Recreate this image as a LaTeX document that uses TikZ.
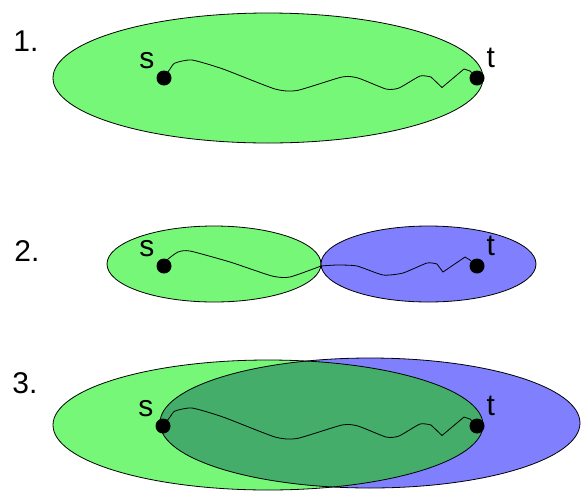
\documentclass[tikz,border=0pt]{standalone}
\usepackage{fontspec}
\setmainfont{Liberation Sans}
\usetikzlibrary{positioning}
\definecolor{regiongreen}{HTML}{77F777}
\definecolor{regionblue}{HTML}{8080FF}
\definecolor{overlapgreen}{HTML}{44AD6A}
\tikzset{
  region/.style={draw=black, line width=0.8pt},
  vertex/.style={circle, fill=black, inner sep=0pt, minimum size=15pt},
  vlabel/.style={font=\fontsize{30}{30}\selectfont, inner sep=0pt},
  rowlabel/.style={font=\fontsize{30}{30}\selectfont, inner sep=0pt},
  walk/.style={line width=0.8pt, smooth, tension=0.35},
}
% s-t walk of rows 1 and 3
\newcommand{\stwalk}[2]{%
  \draw[walk] plot coordinates {(#1) (170,69) (175,63) (192,60) (223,69) (275,89) (297,90.5)
    (342,77) (358,78) (386,89) (399,88) (420,76) (431,77)} -- (442,87.5) -- (464,69) -- (470,71) -- (#2);}

\begin{document}
\begin{tikzpicture}[x=1pt, y=-1pt]
  \useasboundingbox (0,0) rectangle (581,491);

  % 1.
  \draw[region, fill=regiongreen] (268,78) ellipse [x radius=215, y radius=65];
  \node[rowlabel] (row1) at (26,41) {1.};
  \node[vertex] (s1) at (164,78) {};
  \node[vertex] (t1) at (477,78) {};
  \node[vlabel, above left=4pt and 4pt of s1] (s1lab) {s};
  \node[vlabel, above right=5pt and 4pt of t1] (t1lab) {t};
  \stwalk{s1}{t1}

  % 2.
  \draw[region, fill=regiongreen] (214,264) ellipse [x radius=107, y radius=38];
  \draw[region, fill=regionblue] (428.5,264) ellipse [x radius=107.5, y radius=38];
  \node[rowlabel] (row2) at (27,251) {2.};
  \coordinate (touch) at (321,266);
  \node[vertex] (s2) at (164,266) {};
  \node[vertex] (t2) at (477,266) {};
  \node[vlabel, above left=4pt and 4pt of s2] (s2lab) {s};
  \node[vlabel, above right=5pt and 4pt of t2] (t2lab) {t};
  \draw[walk] plot coordinates {(s2) (167,260) (178,252) (190,251) (230,262) (272,276) (290,277) (touch)};
  \draw[walk] plot coordinates {(touch) (337,265) (357,266) (383,275) (403,273) (427,263) (437,264)}
    -- (443,272) -- (465,257) -- (470,260) -- (t2);

  % 3.
  \fill[regiongreen] (268,425) ellipse [x radius=215, y radius=65];
  \fill[regionblue] (370,423) ellipse [x radius=210, y radius=65];
  \begin{scope}
    \clip (268,425) ellipse [x radius=215, y radius=65];
    \fill[overlapgreen] (370,423) ellipse [x radius=210, y radius=65];
  \end{scope}
  \draw[region] (268,425) ellipse [x radius=215, y radius=65];
  \draw[region] (370,423) ellipse [x radius=210, y radius=65];
  \node[rowlabel] (row3) at (25,383) {3.};
  \node[vertex] (s3) at (163,426) {};
  \node[vertex] (t3) at (477,426) {};
  \node[vlabel, above left=4pt and 4pt of s3] (s3lab) {s};
  \node[vlabel, above right=5pt and 4pt of t3] (t3lab) {t};
  \begin{scope}[shift={(0,348)}]
    \stwalk{s3}{t3}
  \end{scope}
\end{tikzpicture}
\end{document}
